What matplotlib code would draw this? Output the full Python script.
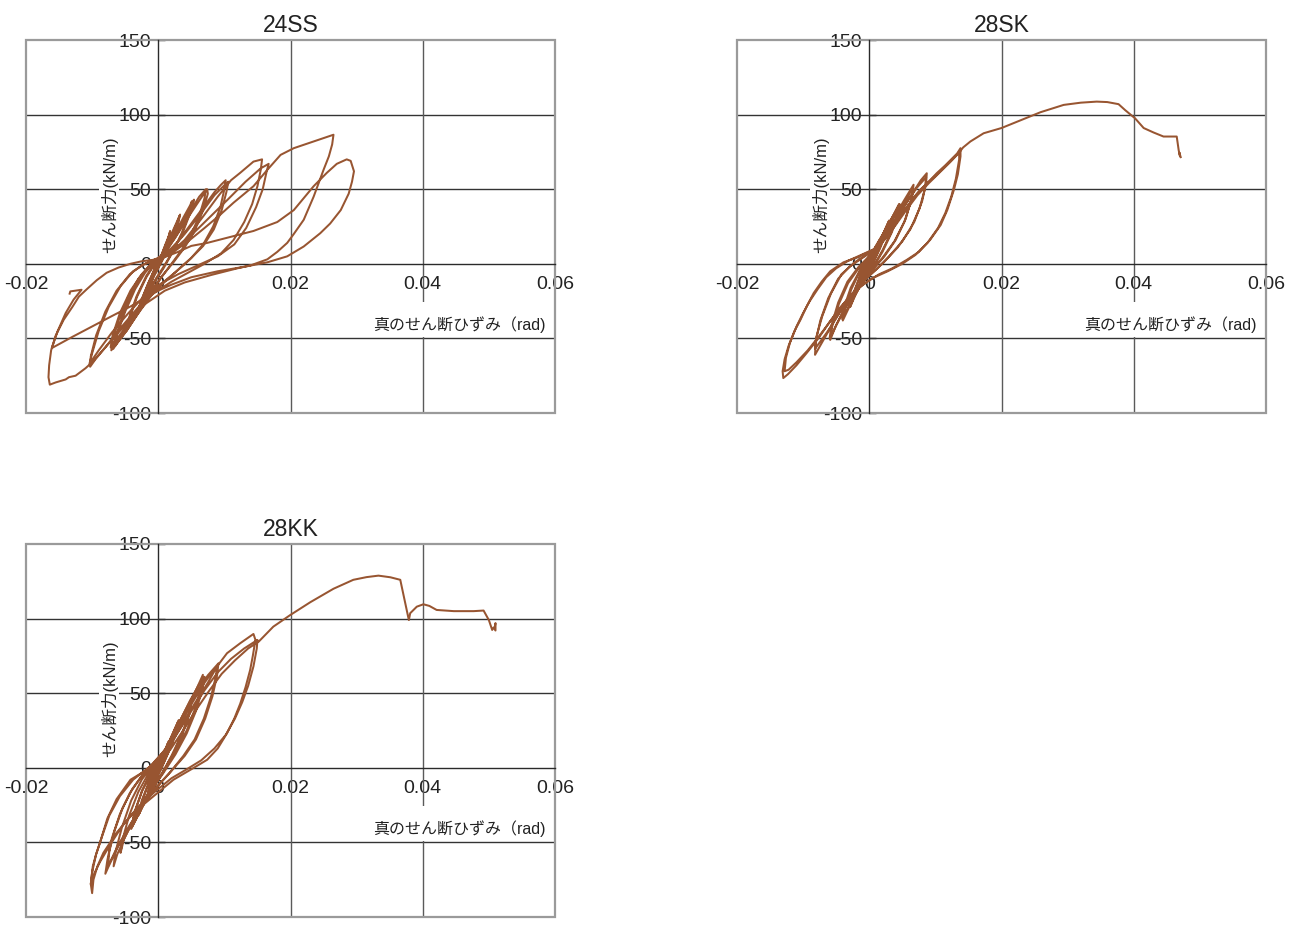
import matplotlib
matplotlib.use("Agg")
import matplotlib.pyplot as plt
from matplotlib.patches import Rectangle

plt.rcParams['font.family'] = ['Liberation Sans', 'Noto Sans CJK JP', 'DejaVu Sans']

# ---------------- data ----------------
titles = ['24SS', '28SK', '28KK']
x_label = '真のせん断ひずみ（rad)'
y_label = 'せん断力(kN/m)'
x_ticks = [-0.02, 0.0, 0.02, 0.04, 0.06]
x_tick_labels = ['-0.02', '0', '0.02', '0.04', '0.06']
y_ticks = [-100, -50, 0, 50, 100, 150]
y_tick_labels = ['-100', '-50', '0', '50', '100', '150']

strain_24SS = [
    0.0, 0.0010, 0.0018, 0.0015, 0.0005, -0.0005, -0.0015, -0.0018, -0.0014, -0.0005,
    0.0005, 0.0015, 0.0018, 0.0014, 0.0004, -0.0006, -0.0016, -0.0019, -0.0015, -0.0006,
    0.0005, 0.0015, 0.0025, 0.0032, 0.0029, 0.0020, 0.0010, 0.0, -0.0010, -0.0020,
    -0.0029, -0.0031, -0.0026, -0.0015, -0.0005, 0.0005, 0.0018, 0.0028, 0.0033, 0.0030,
    0.0019, 0.0008, -0.0003, -0.0015, -0.0026, -0.0032, -0.0027, -0.0016, -0.0005, 0.0010,
    0.0025, 0.0038, 0.0048, 0.0051, 0.0047, 0.0035, 0.0022, 0.0008, -0.0005, -0.0020,
    -0.0035, -0.0046, -0.0043, -0.0032, -0.0018, -0.0005, 0.0010, 0.0026, 0.0040, 0.0052,
    0.0054, 0.0050, 0.0038, 0.0023, 0.0008, -0.0008, -0.0023, -0.0038, -0.0048, -0.0044,
    -0.0033, -0.0018, -0.0004, 0.0012, 0.0030, 0.0048, 0.0062, 0.0072, 0.0070, 0.0062,
    0.0050, 0.0035, 0.0020, 0.0005, -0.0012, -0.0030, -0.0048, -0.0062, -0.0068, -0.0065,
    -0.0055, -0.0040, -0.0025, -0.0010, 0.0008, 0.0025, 0.0045, 0.0063, 0.0074, 0.0075,
    0.0068, 0.0055, 0.0040, 0.0023, 0.0006, -0.0013, -0.0032, -0.0050, -0.0065, -0.0062,
    -0.0050, -0.0035, -0.0020, -0.0006, 0.0010, 0.0030, 0.0050, 0.0070, 0.0085, 0.0095,
    0.0102, 0.0100, 0.0094, 0.0083, 0.0068, 0.0050, 0.0030, 0.0010, -0.0010, -0.0030,
    -0.0050, -0.0065, -0.0071, -0.0069, -0.0060, -0.0046, -0.0030, -0.0015, 0.0, 0.0020,
    0.0040, 0.0065, 0.0085, 0.0103, 0.0106, 0.0103, 0.0096, 0.0084, 0.0068, 0.0048,
    0.0025, 0.0003, -0.0020, -0.0042, -0.0062, -0.0072, -0.0069, -0.0058, -0.0042, -0.0025,
    -0.0008, 0.0015, 0.0040, 0.0065, 0.0090, 0.0110, 0.0124, 0.0144, 0.0157, 0.0155,
    0.0150, 0.0142, 0.0130, 0.0114, 0.0095, 0.0070, 0.0045, 0.0020, -0.0005, -0.0030,
    -0.0055, -0.0080, -0.0095, -0.0103, -0.0102, -0.0094, -0.0080, -0.0063, -0.0043, -0.0025,
    -0.0005, 0.0020, 0.0045, 0.0075, 0.0105, 0.0132, 0.0155, 0.0167, 0.0164, 0.0158,
    0.0148, 0.0133, 0.0115, 0.0090, 0.0060, 0.0030, 0.0005, -0.0020, -0.0045, -0.0070,
    -0.0090, -0.0104, -0.0100, -0.0090, -0.0075, -0.0057, -0.0038, -0.0020, 0.0, 0.0020,
    0.0045, 0.0070, 0.0094, 0.0114, 0.0144, 0.0165, 0.0185, 0.0205, 0.0235, 0.0255,
    0.0265, 0.0263, 0.0258, 0.0250, 0.0235, 0.0220, 0.0205, 0.0195, 0.0180, 0.0165,
    0.0140, 0.0120, 0.0080, 0.0040, 0.0010, -0.0020, -0.0040, -0.0060, -0.0080, -0.0100,
    -0.0110, -0.0125, -0.0135, -0.0140, -0.0155, -0.0164, -0.0166, -0.0165, -0.0162, -0.0155,
    -0.0143, -0.0130, -0.0120, -0.0108, -0.0093, -0.0078, -0.0060, -0.0042, -0.0025, -0.0007,
    0.0010, 0.0030, 0.0050, 0.0074, 0.0100, 0.0144, 0.0180, 0.0205, 0.0235, 0.0255,
    0.0270, 0.0285, 0.0291, 0.0296, 0.0293, 0.0288, 0.0276, 0.0260, 0.0245, 0.0220,
    0.0195, 0.0165, 0.0130, 0.0090, 0.0050, 0.0020, 0.0, -0.0020, -0.0042, -0.0070,
    -0.0100, -0.0130, -0.0161, -0.0152, -0.0140, -0.0128, -0.0116, -0.0125, -0.0133, -0.0134,
]
shear_24SS = [
    0, 12, 21, 15, 4, -6, -17, -21, -14, -3,
    6, 17, 22, 14, 3, -7, -19, -22, -15, -4,
    5, 15, 25, 32, 26, 16, 6, -3, -11, -21,
    -30, -33, -25, -13, -3, 6, 17, 27, 33, 27,
    15, 4, -5, -15, -27, -34, -26, -14, -3, 8,
    20, 31, 39, 42, 34, 20, 8, -3, -12, -24,
    -36, -43, -36, -22, -9, 0, 8, 19, 31, 41,
    43, 36, 22, 9, -2, -13, -26, -38, -45, -36,
    -22, -8, 1, 8, 21, 35, 45, 50, 44, 32,
    20, 9, 0, -9, -20, -33, -45, -53, -57, -50,
    -36, -20, -8, 0, 7, 17, 31, 43, 50, 47,
    36, 22, 11, 1, -8, -20, -34, -46, -55, -47,
    -32, -17, -6, 1, 6, 15, 27, 39, 48, 53,
    56, 50, 38, 25, 13, 4, -4, -12, -21, -33,
    -45, -54, -58, -51, -38, -23, -10, -2, 3, 10,
    20, 34, 46, 54, 55, 48, 36, 23, 12, 3,
    -6, -14, -25, -38, -50, -56, -48, -33, -18, -7,
    1, 6, 16, 30, 45, 56, 61, 68.5, 70, 63,
    52, 40, 28, 16, 7, 0, -6, -12, -19, -29,
    -42, -56, -64, -69, -62, -48, -32, -18, -7, -1,
    3, 8, 17, 30, 43, 55, 64, 67, 62, 50,
    38, 24, 13, 5, -1, -7, -13, -21, -33, -46,
    -58, -67, -60, -45, -29, -15, -5, 0, 3, 7,
    15, 24, 33, 41, 52, 63, 73, 77.5, 82, 85,
    86.5, 80, 72, 63, 45, 29.5, 20, 14, 8, 3,
    -1, -3, -7.5, -12.5, -18, -27, -36, -46, -56, -66,
    -70, -75, -76, -77.5, -79.5, -81, -76, -68, -58, -48,
    -37.5, -29, -22, -17, -11, -6, -2.5, 0, 1.7, 2.7,
    4.5, 8, 12, 14, 17, 22, 28, 36, 52, 61,
    67, 70, 69, 62, 55, 47, 36, 27, 20.5, 11.6,
    5, 1, -2, -5, -9, -14, -18, -23, -28.6, -35,
    -42, -49, -56.5, -45, -33, -24, -17.4, -18, -18.5, -20,
]

strain_28SK = [
    0.0, 0.0008, 0.0015, 0.0012, 0.0003, -0.0006, -0.0014, -0.0012, -0.0004, 0.0006,
    0.0016, 0.0013, 0.0003, -0.0007, -0.0015, -0.0012, -0.0003, 0.0010, 0.0020, 0.0029,
    0.0026, 0.0016, 0.0005, -0.0008, -0.0020, -0.0028, -0.0024, -0.0014, -0.0003, 0.0010,
    0.0022, 0.0030, 0.0027, 0.0016, 0.0004, -0.0010, -0.0022, -0.0029, -0.0025, -0.0013,
    0.0, 0.0015, 0.0030, 0.0045, 0.0043, 0.0033, 0.0020, 0.0006, -0.0010, -0.0025,
    -0.0040, -0.0037, -0.0027, -0.0014, 0.0, 0.0016, 0.0032, 0.0046, 0.0044, 0.0034,
    0.0020, 0.0005, -0.0012, -0.0027, -0.0041, -0.0038, -0.0028, -0.0015, 0.0, 0.0018,
    0.0035, 0.0052, 0.0067, 0.0065, 0.0055, 0.0040, 0.0023, 0.0005, -0.0015, -0.0035,
    -0.0050, -0.0059, -0.0056, -0.0046, -0.0032, -0.0016, 0.0, 0.0020, 0.0040, 0.0056,
    0.0066, 0.0064, 0.0053, 0.0038, 0.0020, 0.0, -0.0020, -0.0038, -0.0052, -0.0060,
    -0.0057, -0.0047, -0.0033, -0.0016, 0.0002, 0.0023, 0.0045, 0.0065, 0.0078, 0.0087,
    0.0086, 0.0080, 0.0068, 0.0050, 0.0030, 0.0010, -0.0010, -0.0030, -0.0050, -0.0068,
    -0.0082, -0.0081, -0.0074, -0.0062, -0.0047, -0.0030, -0.0010, 0.0010, 0.0030, 0.0052,
    0.0072, 0.0086, 0.0084, 0.0076, 0.0062, 0.0043, 0.0022, 0.0, -0.0020, -0.0042,
    -0.0064, -0.0082, -0.0080, -0.0071, -0.0058, -0.0042, -0.0022, -0.0005, 0.0012, 0.0030,
    0.0042, 0.0060, 0.0072, 0.0090, 0.0102, 0.0115, 0.0133, 0.0138, 0.0138, 0.0134,
    0.0128, 0.0118, 0.0108, 0.0092, 0.0075, 0.0057, 0.0035, 0.0015, 0.0, -0.0015,
    -0.0030, -0.0045, -0.0060, -0.0077, -0.0095, -0.0110, -0.0123, -0.0130, -0.0131, -0.0128,
    -0.0122, -0.0113, -0.0104, -0.0094, -0.0084, -0.0072, -0.0059, -0.0039, -0.0020, -0.0005,
    0.0013, 0.0032, 0.0046, 0.0062, 0.0078, 0.0095, 0.0110, 0.0126, 0.0136, 0.0136,
    0.0131, 0.0124, 0.0115, 0.0104, 0.0088, 0.0070, 0.0050, 0.0028, 0.0008, -0.0010,
    -0.0027, -0.0043, -0.0058, -0.0075, -0.0093, -0.0110, -0.0122, -0.0128, -0.0126, -0.0120,
    -0.0110, -0.0100, -0.0090, -0.0078, -0.0065, -0.0050, -0.0032, -0.0012, 0.0008, 0.0025,
    0.0040, 0.0056, 0.0073, 0.0090, 0.0106, 0.0122, 0.0135, 0.0142, 0.0153, 0.0173,
    0.0200, 0.0228, 0.0259, 0.0294, 0.0320, 0.0344, 0.0360, 0.0377, 0.0387, 0.0402,
    0.0415, 0.0430, 0.0445, 0.0465, 0.0468, 0.0470, 0.0469, 0.0471,
]
shear_28SK = [
    0, 8, 15, 10, 2, -6, -14, -10, -2, 6,
    16, 10, 1, -7, -15, -10, -1, 9, 19, 28,
    22, 11, 0, -10, -20, -28, -20, -9, 2, 12,
    21, 29, 22, 10, -1, -11, -21, -29, -21, -7,
    4, 15, 27, 40, 33, 21, 9, -2, -12, -24,
    -38, -30, -17, -5, 4, 16, 29, 40, 33, 21,
    8, -3, -13, -25, -37, -29, -16, -5, 5, 16,
    29, 42, 53, 45, 30, 16, 5, -4, -14, -28,
    -41, -51, -42, -27, -13, -3, 5, 16, 30, 43,
    51, 43, 28, 15, 4, -6, -17, -31, -43, -50,
    -41, -26, -12, -2, 6, 18, 33, 47, 56, 60.7,
    54, 42, 28, 15, 5, -4, -12, -22, -36, -50,
    -61, -52, -38, -23, -10, -2, 4, 10, 22, 38,
    51, 58, 50, 37, 23, 11, 1, -8, -17, -31,
    -46, -57, -49, -35, -20, -7, 1, 6, 10.5, 20,
    29.5, 40, 47, 55, 60.7, 66, 74, 77.5, 72, 60,
    49.5, 36, 26, 16, 8, 2.7, -3, -7, -11, -16,
    -22, -30, -39, -50, -60, -68, -74, -76.6, -72, -64,
    -55, -45, -37.5, -28, -19.6, -12, -5, 1, 4, 7,
    11, 21, 31, 41, 50, 57, 63, 70, 75, 70,
    57, 45, 34, 24, 14, 6, 0, -5, -9, -14,
    -21, -29, -38, -48, -58, -66, -71, -72, -63, -53,
    -42, -33, -25, -17, -9, -3, 2, 6, 10, 17,
    26, 36, 46, 54, 61, 68, 74, 78, 82, 87.5,
    91, 96, 101.6, 106.5, 108, 108.7, 108.4, 107, 103, 97.5,
    91, 88, 85.3, 85.3, 76, 72, 74.5, 71.5,
]

strain_28KK = [
    0.0, 0.0008, 0.0015, 0.0012, 0.0003, -0.0006, -0.0014, -0.0011, -0.0003, 0.0007,
    0.0016, 0.0013, 0.0003, -0.0007, -0.0015, -0.0011, -0.0002, 0.0010, 0.0020, 0.0030,
    0.0027, 0.0017, 0.0005, -0.0009, -0.0020, -0.0029, -0.0024, -0.0013, 0.0, 0.0013,
    0.0023, 0.0031, 0.0028, 0.0016, 0.0003, -0.0011, -0.0022, -0.0030, -0.0025, -0.0012,
    0.0002, 0.0018, 0.0035, 0.0050, 0.0048, 0.0037, 0.0022, 0.0006, -0.0012, -0.0027,
    -0.0040, -0.0036, -0.0025, -0.0012, 0.0003, 0.0020, 0.0036, 0.0050, 0.0048, 0.0036,
    0.0020, 0.0003, -0.0014, -0.0029, -0.0041, -0.0036, -0.0024, -0.0010, 0.0005, 0.0023,
    0.0040, 0.0055, 0.00675, 0.0065, 0.0056, 0.0043, 0.0026, 0.0008, -0.0012, -0.0032,
    -0.0050, -0.0062, -0.00675, -0.0065, -0.0055, -0.0041, -0.0025, -0.0008, 0.0010, 0.0030,
    0.0048, 0.0062, 0.0070, 0.0067, 0.0057, 0.0043, 0.0026, 0.0007, -0.0014, -0.0035,
    -0.0052, -0.0057, -0.0054, -0.0044, -0.0030, -0.0015, 0.0, 0.0020, 0.0040, 0.0060,
    0.0075, 0.0085, 0.0091, 0.0089, 0.0082, 0.0071, 0.0057, 0.0040, 0.0020, 0.0,
    -0.0020, -0.0040, -0.0060, -0.0075, -0.0080, -0.0077, -0.0070, -0.0058, -0.0043, -0.0026,
    -0.0008, 0.0012, 0.0032, 0.0052, 0.0070, 0.0083, 0.0089, 0.0087, 0.0080, 0.0069,
    0.0055, 0.0038, 0.0018, -0.0003, -0.0024, -0.0044, -0.0063, -0.0076, -0.0074, -0.0066,
    -0.0054, -0.0039, -0.0022, -0.0004, 0.0015, 0.0035, 0.0055, 0.0075, 0.0089, 0.0104,
    0.0124, 0.0144, 0.0147, 0.0143, 0.0139, 0.0132, 0.0124, 0.0115, 0.0104, 0.0090,
    0.0074, 0.0053, 0.0023, -0.0007, -0.0037, -0.0063, -0.0083, -0.0092, -0.0098, -0.0100,
    -0.0102, -0.0099, -0.0094, -0.0088, -0.0077, -0.0063, -0.0042, -0.0017, -0.0002, 0.0013,
    0.0030, 0.0050, 0.0070, 0.0090, 0.0110, 0.0130, 0.0150, 0.0149, 0.0144, 0.0136,
    0.0127, 0.0116, 0.0102, 0.0085, 0.0065, 0.0043, 0.0020, -0.0005, -0.0030, -0.0053,
    -0.0072, -0.0088, -0.0098, -0.0102, -0.0100, -0.0094, -0.0085, -0.0074, -0.0058, -0.0038,
    -0.0018, 0.0, 0.0018, 0.0036, 0.0056, 0.0076, 0.0096, 0.0116, 0.0136, 0.0152,
    0.0174, 0.0200, 0.0230, 0.0265, 0.0295, 0.0315, 0.0333, 0.0351, 0.0366, 0.0379,
    0.0381, 0.0391, 0.0401, 0.0410, 0.0421, 0.0447, 0.0477, 0.0492, 0.0500, 0.0505,
    0.0507, 0.0510, 0.0510, 0.0509,
]
shear_28KK = [
    0, 9, 17, 11, 2, -7, -15, -9, -1, 8,
    18, 11, 1, -8, -16, -9, 0, 11, 21, 31,
    24, 12, 0, -12, -22, -31, -22, -9, 3, 14,
    24, 32, 24, 11, -2, -13, -23, -32, -22, -7,
    5, 18, 32, 45, 37, 23, 9, -4, -16, -29,
    -40, -30, -16, -4, 6, 20, 34, 46, 38, 23,
    8, -6, -18, -30, -41, -30, -15, -3, 7, 22,
    37, 50, 62.3, 54, 40, 25, 11, -2, -15, -30,
    -46, -58, -66, -57, -40, -22, -8, 2, 12, 29,
    45, 56, 61, 53, 38, 23, 9, -4, -17, -33,
    -48, -57, -48, -32, -16, -4, 5, 19, 36, 52,
    62, 67, 70, 62, 48, 33, 19, 8, -2, -12,
    -23, -37, -52, -66, -71, -62, -47, -31, -17, -6,
    3, 13, 28, 44, 57, 65, 68, 61, 48, 33,
    19, 8, -3, -13, -25, -39, -54, -66, -56, -42,
    -27, -14, -4, 4, 13, 28, 43, 57, 68, 76.8,
    83.5, 89.7, 85.7, 75, 65.6, 54, 43, 33, 23.2, 13,
    5.4, -0.2, -8, -19, -30, -43.5, -57, -66, -75, -84,
    -78, -66, -58, -50, -34, -21, -8, -1.3, 5.4, 12,
    24, 38, 52, 64, 73, 80, 85.7, 80, 68, 55,
    44, 33, 22, 13, 5, -1, -7, -16, -26, -38,
    -51, -63, -72, -78, -70, -58, -46, -32, -19, -8,
    -1, 5, 12, 24, 38, 51, 63, 72, 80, 84.6,
    94.6, 102.5, 111, 120, 126, 127.8, 128.8, 127.7, 126, 99,
    103.6, 108, 109.6, 108.5, 105.8, 105, 105, 105.4, 99, 92.4,
    94, 92, 97, 94.6,
]

series = [(strain_24SS, shear_24SS), (strain_28SK, shear_28SK), (strain_28KK, shear_28KK)]

# ---------------- figure ----------------
W, H = 1299, 927
fig = plt.figure(figsize=(W / 100, H / 100), dpi=100)
boxes = [(26, 40), (737, 40), (26, 544)]   # (left px, top px)
aw, ah = 529, 373

line_color = '#985531'
text_color = '#222222'

for (lx, ty), title, (xs, ys) in zip(boxes, titles, series):
    ax = fig.add_axes([lx / W, (H - ty - ah) / H, aw / W, ah / H])
    ax.set_xlim(x_ticks[0], x_ticks[-1])
    ax.set_ylim(y_ticks[0], y_ticks[-1])
    ax.set_axisbelow(True)

    for s in ['top', 'right']:
        ax.spines[s].set_visible(False)
    ax.spines['left'].set_position(('data', 0))
    ax.spines['bottom'].set_position(('data', 0))
    for s in ['left', 'bottom']:
        ax.spines[s].set_color('#2a2a2a')
        ax.spines[s].set_linewidth(1.0)
        ax.spines[s].set_zorder(1.7)

    ax.set_xticks(x_ticks, x_tick_labels)
    ax.set_yticks(y_ticks, y_tick_labels)
    ax.tick_params(axis='y', direction='in', length=5, width=1, pad=5,
                   labelsize=14, colors=text_color)
    ax.tick_params(axis='x', length=0, pad=9, labelsize=14, colors=text_color)

    # grid lines (drawn over tick labels, like the original)
    for yv in y_ticks[1:-1]:
        if yv != 0:
            ax.axhline(yv, color='#333333', lw=1.0, zorder=1.5)
    for xv in x_ticks[1:-1]:
        if xv != 0:
            ax.axvline(xv, color='#5a5a5a', lw=1.0, zorder=1.5)
    # outer frame
    ax.add_patch(Rectangle((0, 0), 1, 1, transform=ax.transAxes, fill=False,
                           ec='#9a9a9a', lw=1.6, zorder=1.6, clip_on=False))

    # curve
    ax.plot(xs, ys, color=line_color, lw=1.45, zorder=3, solid_joinstyle='round')

    # title
    ax.set_title(title, fontsize=16.5, pad=6, color=text_color)

    # x label with white backing
    ax.add_patch(Rectangle((0.0325, -49.0), 0.0265, 23.5, fc='white', ec='none', zorder=1.8))
    ax.text(0.0585, -41, x_label, ha='right', va='center', fontsize=11.5,
            color=text_color, zorder=4)
    # y label
    ax.text(-0.0074, 46, y_label, rotation=90, ha='center', va='center',
            fontsize=12, color=text_color, zorder=4,
            bbox=dict(boxstyle='square,pad=0.1', fc='white', ec='none'))

fig.savefig('out.png', dpi=100)
